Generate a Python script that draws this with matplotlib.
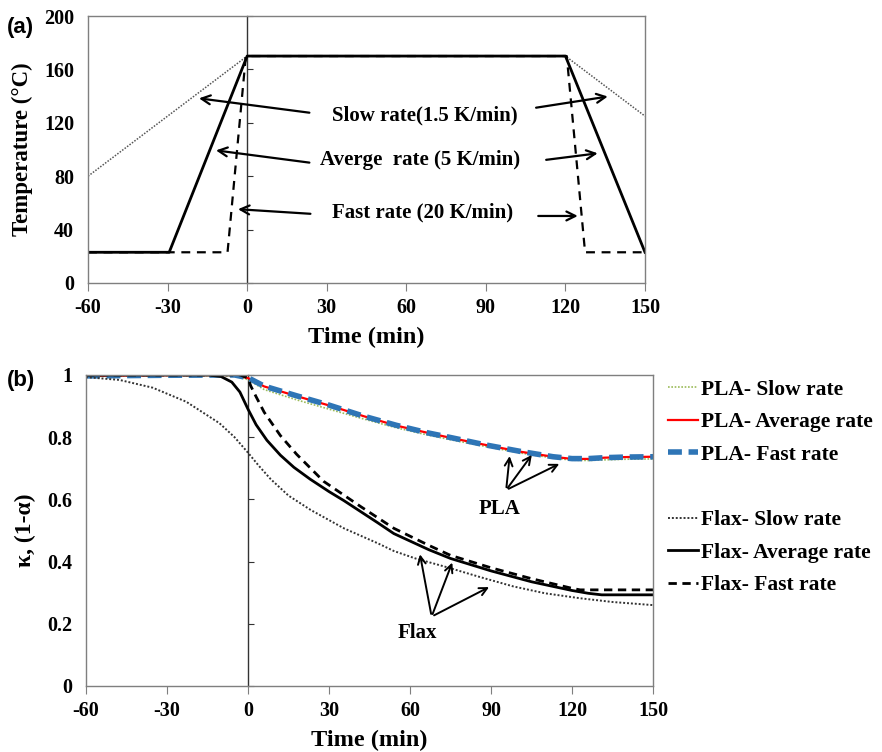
import numpy as np
import matplotlib
matplotlib.use("Agg")
import matplotlib.pyplot as plt
from matplotlib.lines import Line2D

plt.rcParams['font.family'] = ['Liberation Serif', 'DejaVu Serif']
plt.rcParams['font.weight'] = 'bold'
plt.rcParams['axes.labelweight'] = 'bold'
plt.rcParams['axes.unicode_minus'] = False

# ---- panel (a): temperature programmes ----
slow_t = [-60, 0, 120, 150]
slow_T = [80, 170, 170, 125]
avg_t = [-60, -29.4, 0, 120, 150]
avg_T = [23, 23, 170, 170, 23]
fast_t = [-60, -7.4, -0.5, 120.5, 127.4, 150]
fast_T = [23, 23, 170, 170, 23, 23]

# ---- panel (b): kappa = 1 - alpha ----
pla_t = [-60, -30, -5, 0, 6, 18, 30, 43, 55, 67, 76, 88, 101, 113, 120, 126, 132, 140, 150]
pla_slow = [0.995, 0.998, 0.997, 0.985, 0.953, 0.92, 0.89, 0.858, 0.83, 0.806, 0.79, 0.77, 0.749, 0.733, 0.726, 0.725, 0.727, 0.729, 0.73]
pla_avg = [0.997, 0.999, 1.0, 0.99, 0.963, 0.932, 0.902, 0.867, 0.837, 0.813, 0.796, 0.775, 0.753, 0.737, 0.73, 0.73, 0.734, 0.736, 0.737]
pla_fast = [0.997, 0.999, 1.0, 0.991, 0.964, 0.933, 0.903, 0.867, 0.838, 0.813, 0.797, 0.775, 0.754, 0.737, 0.731, 0.731, 0.734, 0.736, 0.737]

flax_slow_t = [-60, -47.6, -35.3, -22.9, -10.6, -5, 0, 4, 8.4, 15, 23.2, 35.5, 48, 54, 62, 73.6, 86, 98.3, 110, 123, 135, 150]
flax_slow = [0.993, 0.984, 0.959, 0.914, 0.845, 0.80, 0.75, 0.708, 0.665, 0.612, 0.566, 0.507, 0.459, 0.434, 0.41, 0.382, 0.35, 0.32, 0.298, 0.282, 0.27, 0.26]
flax_avg_t = [-60, -15, -10, -6, -3, 0, 3, 7, 12, 17, 23, 30, 35.5, 48, 54, 67, 75, 90, 105, 120, 126, 131, 150]
flax_avg = [1.0, 1.0, 0.995, 0.977, 0.945, 0.89, 0.84, 0.79, 0.742, 0.703, 0.665, 0.625, 0.596, 0.525, 0.49, 0.438, 0.41, 0.37, 0.335, 0.307, 0.298, 0.293, 0.293]
flax_fast_t = [-60, -3, 0, 1, 3, 6, 12, 18, 28, 41.7, 54, 67, 75, 90, 105, 120, 123, 150]
flax_fast = [1.0, 1.0, 0.99, 0.965, 0.93, 0.88, 0.805, 0.745, 0.658, 0.577, 0.507, 0.452, 0.42, 0.38, 0.345, 0.314, 0.309, 0.309]

x_ticks = [-60, -30, 0, 30, 60, 90, 120, 150]
a_yticks = [0, 40, 80, 120, 160, 200]
b_yticks = [0, 0.2, 0.4, 0.6, 0.8, 1.0]
b_ylabels = ['0', '0.2', '0.4', '0.6', '0.8', '1']

fig = plt.figure(figsize=(8.82, 7.52), dpi=100)
ax1 = fig.add_axes([0.0998, 0.6237, 0.6315, 0.355])
ax2 = fig.add_axes([0.0975, 0.0878, 0.6429, 0.4136])

spine_col = '#7f7f7f'
for ax in (ax1, ax2):
    for s in ax.spines.values():
        s.set_color(spine_col)
        s.set_linewidth(1.0)
    ax.set_xlim(-60, 150)
    ax.set_xticks(x_ticks)
    ax.tick_params(axis='x', direction='out', length=6, color=spine_col, labelsize=14.5, pad=5)
    ax.tick_params(axis='y', length=0, labelsize=14.5, pad=10)
    # vertical axis line at t = 0 (Excel style) with inner ticks
    sec = ax.secondary_yaxis(60 / 210)
    sec.spines['left'].set_color('#333333')
    sec.spines['left'].set_linewidth(1.0)
    sec.tick_params(axis='y', direction='in', length=4, color='#333333', labelleft=False)

# ---- (a) ----
ax1.plot(slow_t, slow_T, color='#555555', lw=1.1, linestyle=(0, (1, 1)))
ax1.plot(avg_t, avg_T, color='black', lw=2.0)
ax1.plot(fast_t, fast_T, color='black', lw=1.6, linestyle=(0, (4, 3)))
ax1.set_ylim(0, 200)
ax1.set_yticks(a_yticks)
ax1.child_axes[0].set_yticks(a_yticks)
ax1.set_xlabel('Time (min)', fontsize=17.5, labelpad=6)
ax1.set_ylabel('Temperature (°C)', fontsize=16.5, labelpad=8)

arrow = dict(arrowstyle='->', color='black', lw=1.6, mutation_scale=16)
ax1.annotate('', xy=(-19.2, 138.6), xytext=(24.5, 127.3), arrowprops=arrow)
ax1.annotate('', xy=(137, 140), xytext=(107.9, 131), arrowprops=arrow)
ax1.annotate('', xy=(-12.8, 99.6), xytext=(24.5, 89.9), arrowprops=arrow)
ax1.annotate('', xy=(133.2, 97.4), xytext=(111.7, 92), arrowprops=arrow)
ax1.annotate('', xy=(-4.5, 55.4), xytext=(24.9, 51.7), arrowprops=arrow)
ax1.annotate('', xy=(125.7, 50.2), xytext=(108.7, 50.2), arrowprops=arrow)
ax1.text(66.8, 125.8, 'Slow rate(1.5 K/min)', ha='center', va='center', fontsize=15)
ax1.text(65.3, 92, 'Averge  rate (5 K/min)', ha='center', va='center', fontsize=15)
ax1.text(66, 53, 'Fast rate (20 K/min)', ha='center', va='center', fontsize=15)

# ---- (b) ----
l1, = ax2.plot(pla_t, pla_slow, color='#9bbb59', lw=1.2, linestyle=(0, (1, 1)), label='PLA- Slow rate')
l2, = ax2.plot(pla_t, pla_avg, color='#ff0000', lw=1.6, label='PLA- Average rate')
l3, = ax2.plot(pla_t, pla_fast, color='#2e75b6', lw=4, linestyle=(0, (2.5, 1.2)), label='PLA- Fast rate')
l4, = ax2.plot(flax_slow_t, flax_slow, color='#333333', lw=1.4, linestyle=(0, (1, 1)), label='Flax- Slow rate')
l5, = ax2.plot(flax_avg_t, flax_avg, color='black', lw=2.0, label='Flax- Average rate')
l6, = ax2.plot(flax_fast_t, flax_fast, color='black', lw=2.0, linestyle=(0, (3, 2)), label='Flax- Fast rate')
ax2.set_ylim(0, 1)
ax2.set_yticks(b_yticks, b_ylabels)
ax2.child_axes[0].set_yticks(b_yticks)
ax2.set_xlabel('Time (min)', fontsize=17.5, labelpad=6)
ax2.set_ylabel('κ, (1-α)', fontsize=17, labelpad=8)

arrow2 = dict(arrowstyle='->', color='black', lw=1.4, mutation_scale=14)
for tip in [(97, 0.748), (105.7, 0.75), (116.2, 0.718)]:
    ax2.annotate('', xy=tip, xytext=(95.6, 0.63), arrowprops=arrow2)
ax2.text(93, 0.57, 'PLA', ha='center', va='center', fontsize=15)
for tip in [(63.5, 0.432), (76, 0.405), (90.2, 0.322)]:
    ax2.annotate('', xy=tip, xytext=(68, 0.223), arrowprops=arrow2)
ax2.text(62.6, 0.17, 'Flax', ha='center', va='center', fontsize=15)

blank = Line2D([], [], color='none', label=' ')
ax2.legend(handles=[l1, l2, l3, blank, l4, l5, l6], loc='upper left',
           bbox_to_anchor=(1.012, 1.012), frameon=False, fontsize=15.5,
           handlelength=1.35, handletextpad=0.15, labelspacing=0.58, borderaxespad=0)

fig.text(0.008, 0.978, '(a)', family='Liberation Sans', fontsize=16, fontweight='bold', va='top')
fig.text(0.008, 0.508, '(b)', family='Liberation Sans', fontsize=16, fontweight='bold', va='top')

plt.savefig('out.png', dpi=100)
